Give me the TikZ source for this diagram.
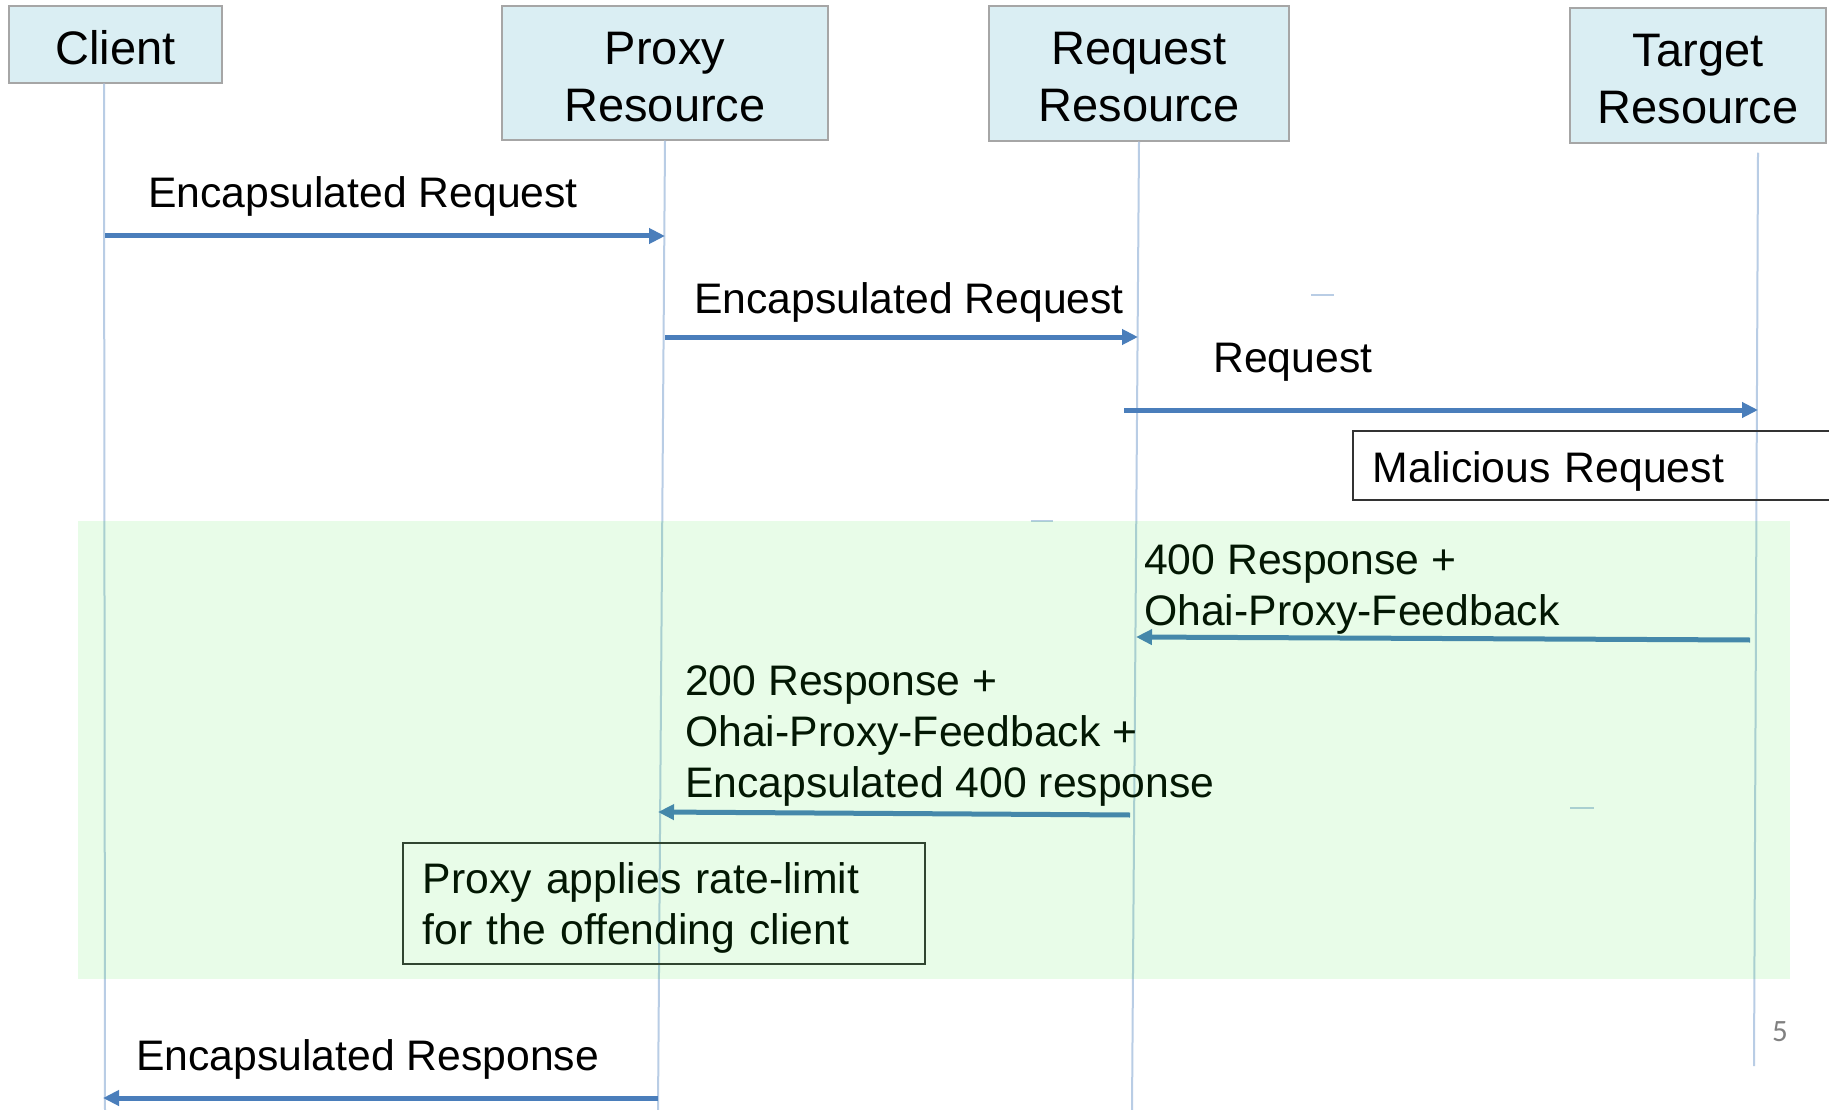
\documentclass[tikz,border=0pt]{standalone}
\usepackage{fontspec}
\setmainfont{Liberation Sans}
\newfontfamily\slidenumfont{Carlito}
\usetikzlibrary{arrows.meta}
\definecolor{hdrfill}{HTML}{DAEEF3}
\definecolor{hdrline}{HTML}{A6A6A6}
\definecolor{lifeblue}{HTML}{B9CDE5}
\definecolor{msgblue}{HTML}{4A7EBB}
\definecolor{zonegreen}{RGB}{30,230,30}

\begin{document}
\begin{tikzpicture}[x=1pt,y=-1pt,
    actor/.style={draw=hdrline,line width=1.5pt,fill=hdrfill,inner sep=0pt,align=center,
      font=\fontsize{47}{57}\selectfont},
    life/.style={lifeblue,line width=2pt},
    msg/.style={msgblue,line width=5pt,-{Triangle[length=16pt,width=15pt]}},
    lbl/.style={inner sep=0pt,anchor=base west,align=left,font=\fontsize{42.7}{51}\selectfont},
    notebox/.style={draw=black!80,line width=1.5pt,inner ysep=0pt,inner xsep=20pt,align=left,
      anchor=north west,font=\fontsize{42.7}{51}\selectfont}]
  \clip (0,0) rectangle (1829,1110);
  \fill [white] (0,0) rectangle (1829,1110);

  \node (client) [actor,minimum width=213,minimum height=77,text height=40pt,text depth=0pt] at (115.5,44.5) {Client};
  \node (proxy) [actor,minimum width=326,minimum height=134,text height=97pt,text depth=0pt] at (665,73) {Proxy\\Resource};
  \node (reqres) [actor,minimum width=300,minimum height=135,text height=97pt,text depth=0pt] at (1139,73.5) {Request\\Resource};
  \node (target) [actor,minimum width=256,minimum height=135,text height=96pt,text depth=0pt] at (1698,75.5) {Target\\Resource};

  \coordinate (clientend) at (105,1110);
  \coordinate (proxyend) at (658,1110);
  \coordinate (reqresend) at (1132,1110);
  \coordinate (targetend) at (1754,1066);
  \draw [life] ([xshift=-11.5pt]client.south) -- (clientend);
  \draw [life] (proxy.south) -- (proxyend);
  \draw [life] (reqres.south) -- (reqresend);
  \draw [life] ([xshift=60pt,yshift=-9pt]target.south) -- (targetend);

  \draw [lifeblue,line width=1.5pt] (1311,295) -- (1334,295);
  \draw [lifeblue,line width=1.5pt] (1031,521) -- (1053,521);
  \draw [lifeblue,line width=1.5pt] (1570,808) -- (1594,808);

  \coordinate (m1a) at (105,236);
  \coordinate (m1b) at (665,236);
  \coordinate (m2a) at (665,337);
  \coordinate (m2b) at (1138,337);
  \coordinate (m3a) at (1124,410);
  \coordinate (m3b) at (1758,410);
  \coordinate (m4a) at (1750,640);
  \coordinate (m4b) at (1136,637);
  \coordinate (m5a) at (1130,815);
  \coordinate (m5b) at (658,812);
  \coordinate (m6a) at (658,1098);
  \coordinate (m6b) at (103,1098);
  \draw [msg] (m1a) -- (m1b);
  \draw [msg] (m2a) -- (m2b);
  \draw [msg] (m3a) -- (m3b);
  \draw [msg] (m4a) -- (m4b);
  \draw [msg] (m5a) -- (m5b);
  \draw [msg] (m6a) -- (m6b);

  \node (encreq) [lbl] at (148,208) {Encapsulated Request};
  \node (encreqfwd) [lbl] at (694,313) {Encapsulated Request};
  \node (plainreq) [lbl] at (1213,372) {Request};
  \node (resp400) [lbl] at (1144,625) {400 Response +\\Ohai-Proxy-Feedback};
  \node (resp200) [lbl] at (685,797) {200 Response +\\Ohai-Proxy-Feedback +\\Encapsulated 400 response};
  \node (encresp) [lbl] at (136,1070) {Encapsulated Response};

  \node (malicious) [notebox,text width=480pt,text height=52pt,text depth=17pt] at (1352,430) {Malicious Request};
  \node (ratelimit) [notebox,text width=482pt,text height=51pt,text depth=70pt] at (402,842)
    {Proxy applies rate-limit\\for the offending client};

  \fill [zonegreen,opacity=0.1] (78,521) rectangle (1790,979);

  \node (slidenum) [inner sep=0pt,anchor=base west,text=gray,font=\slidenumfont\fontsize{31}{33}\selectfont] at (1772,1041) {5};
\end{tikzpicture}
\end{document}
